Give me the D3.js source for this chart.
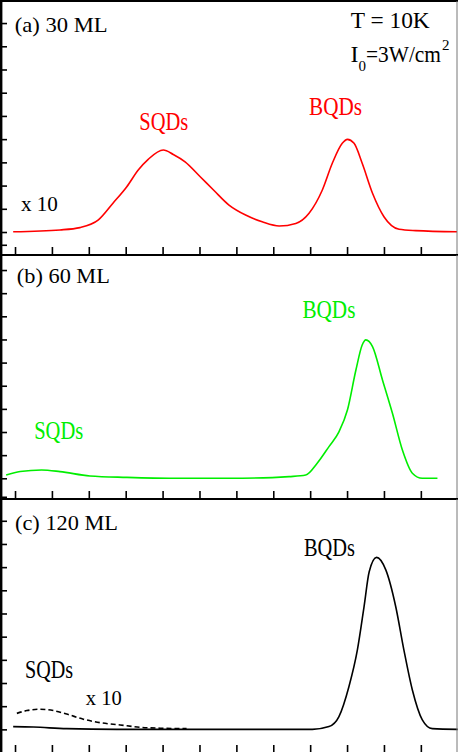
<!DOCTYPE html>
<html>
<head>
<meta charset="utf-8">
<script src="https://cdn.jsdelivr.net/npm/d3@7"></script>
<style>
  body { margin: 0; background: #fff; }
  svg text { font-family: "Liberation Serif", "Times New Roman", serif; }
</style>
</head>
<body>
<div id="chart"></div>
<script>
// PL spectra of three samples, stacked panels sharing one x axis (no tick labels)

// x ticks, in tick units
const xTicks = d3.range(0, 12);
// y ticks per panel (tick units, 0 = baseline)
const yTicksA = [-0.55, 0, 1, 2, 3, 4, 5, 6, 7, 8, 9];
const yTicksB = [-0.8, 0, 1, 2, 3, 4, 5, 6, 7, 8, 9];
const yTicksC = [0, 1, 2, 3, 4, 5, 6, 7, 8, 9];

// (a) 30 ML, red
const xA = [-0.05, 1.22, 1.76, 2.26, 2.66, 3.03, 3.34, 3.61, 4.02, 4.29, 4.61, 5.02, 5.38, 5.80, 6.25, 6.70, 7.16, 7.61, 7.97, 8.33, 8.60, 8.87, 9.01, 9.19, 9.41, 9.69, 10.00, 10.41, 10.86, 11.98];
const yA = [0.01, 0.09, 0.19, 0.52, 1.25, 1.95, 2.67, 3.13, 3.53, 3.34, 3.02, 2.38, 1.81, 1.16, 0.73, 0.44, 0.26, 0.37, 0.81, 1.81, 2.96, 3.82, 3.99, 3.82, 2.96, 1.67, 0.66, 0.12, 0.06, 0.01];

// (b) 60 ML, green
const xB = [-0.24, 0.14, 0.72, 1.22, 2.03, 3.03, 4.29, 5.80, 6.97, 7.43, 7.88, 8.19, 8.51, 8.78, 9.01, 9.24, 9.41, 9.51, 9.69, 9.96, 10.23, 10.50, 10.77, 11.04, 11.45];
const yB = [0.14, 0.29, 0.36, 0.29, 0.10, 0.04, 0.00, 0.00, 0.03, 0.07, 0.14, 0.65, 1.37, 2.01, 2.95, 4.68, 5.76, 5.98, 5.69, 4.25, 2.81, 1.22, 0.22, 0.00, 0.00];

// (c) 120 ML, black solid
const xC = [-0.05, 0.50, 1.40, 2.76, 5.80, 8.06, 8.51, 8.78, 9.05, 9.28, 9.46, 9.60, 9.80, 10.05, 10.32, 10.54, 10.77, 11.04, 11.31, 12.00];
const yC = [0.12, 0.10, 0.03, 0.00, 0.00, 0.00, 0.12, 0.55, 1.84, 3.43, 5.29, 6.80, 7.42, 6.88, 5.29, 3.43, 1.70, 0.41, 0.03, 0.00];

// (c) SQDs x10, black dashed
const xC10 = [0.05, 0.32, 0.68, 1.04, 1.40, 1.85, 2.30, 2.85, 3.39, 3.93, 4.65];
const yC10 = [0.69, 0.81, 0.87, 0.81, 0.66, 0.44, 0.29, 0.19, 0.09, 0.05, 0.03];

const width = 458, height = 752;

const x = d3.scaleLinear().domain([-0.38, 11.98]).range([1, 457]);

const panels = [
    {
        top: 1, bottom: 255, domain: [-0.99, 9.95], yTicks: yTicksA,
        series: [{ xs: xA, ys: yA, color: "#ff0000", dash: null }],
        labels: [
            { text: "(a) 30 ML", x: -0.01, y: 8.6, size: 22, len: 93, color: "#000" },
            { text: "SQDs", x: 3.37, y: 4.4, size: 25, len: 49, color: "#ff0000" },
            { text: "BQDs", x: 7.97, y: 5.03, size: 25, len: 53, color: "#ff0000" },
            { text: "x 10", x: 0.16, y: 0.92, size: 20, len: 37, color: "#000" },
            { text: "T = 10K", x: 9.1, y: 8.77, size: 24, len: 79, color: "#000" }
        ]
    },
    {
        top: 255, bottom: 499, domain: [-0.895, 9.65], yTicks: yTicksB,
        series: [{ xs: xB, ys: yB, color: "#00ee00", dash: null }],
        labels: [
            { text: "(b) 60 ML", x: 0.05, y: 8.43, size: 22, len: 93, color: "#000" },
            { text: "SQDs", x: 0.52, y: 1.69, size: 25, len: 49, color: "#00ee00" },
            { text: "BQDs", x: 7.79, y: 6.92, size: 25, len: 53, color: "#00ee00" }
        ]
    },
    {
        top: 499, bottom: 753, domain: [-1.02, 9.94], yTicks: yTicksC,
        series: [
            { xs: xC, ys: yC, color: "#000", dash: null },
            { xs: xC10, ys: yC10, color: "#000", dash: "5,3" }
        ],
        labels: [
            { text: "(c) 120 ML", x: 0.0, y: 8.6, size: 22, len: 103, color: "#000" },
            { text: "SQDs", x: 0.27, y: 2.20, size: 25, len: 48, color: "#000" },
            { text: "x 10", x: 1.92, y: 1.05, size: 20, len: 36, color: "#000" },
            { text: "BQDs", x: 7.83, y: 7.5, size: 25, len: 51, color: "#000" }
        ]
    }
];

const svg = d3.select("#chart")
    .append("svg")
    .attr("width", width)
    .attr("height", height);

panels.forEach(function (p) {
    const y = d3.scaleLinear().domain(p.domain).range([p.bottom, p.top]);
    const g = svg.append("g");

    // curves
    const line = d3.line()
        .x(d => x(d[0]))
        .y(d => y(d[1]))
        .curve(d3.curveMonotoneX);

    p.series.forEach(s => {
        g.append("path")
            .datum(s.xs.map((v, i) => [v, s.ys[i]]))
            .attr("d", line)
            .attr("fill", "none")
            .attr("stroke", s.color)
            .attr("stroke-width", 1.6)
            .attr("stroke-dasharray", s.dash);
    });

    // x ticks point inward from the bottom edge
    g.append("g")
        .attr("transform", `translate(0,${p.bottom})`)
        .call(d3.axisTop(x).tickValues(xTicks).tickSize(8).tickFormat(""))
        .call(a => a.select(".domain").remove())
        .call(a => a.selectAll("line").attr("stroke", "#000").attr("stroke-width", 1.6));

    // y ticks point inward from the left edge
    g.append("g")
        .attr("transform", "translate(1,0)")
        .call(d3.axisRight(y).tickValues(p.yTicks).tickSize(6).tickFormat(""))
        .call(a => a.select(".domain").remove())
        .call(a => a.selectAll("line").attr("stroke", "#000").attr("stroke-width", 1.6));

    // labels
    p.labels.forEach(l => {
        g.append("text")
            .attr("x", x(l.x))
            .attr("y", y(l.y))
            .attr("font-size", l.size)
            .attr("fill", l.color)
            .attr("textLength", l.len)
            .attr("lengthAdjust", "spacingAndGlyphs")
            .text(l.text);
    });

    // frame
    g.append("line")
        .attr("x1", 0).attr("x2", width)
        .attr("y1", p.top).attr("y2", p.top)
        .attr("stroke", "#000").attr("stroke-width", 2);
    g.append("line")
        .attr("x1", 457).attr("x2", 457)
        .attr("y1", p.top).attr("y2", p.bottom)
        .attr("stroke", "#777").attr("stroke-width", 1);
});

// left edge, full height
svg.append("line")
    .attr("x1", 1.2).attr("x2", 1.2)
    .attr("y1", 0).attr("y2", height)
    .attr("stroke", "#000").attr("stroke-width", 2.4);

// intensity note, top right of panel (a)
const note = svg.append("text")
    .attr("x", 350.5)
    .attr("y", 62)
    .attr("font-size", 24);
note.append("tspan").text("I");
note.append("tspan").attr("font-size", 15).attr("dy", 9).text("0");
note.append("tspan").attr("dy", -9).attr("textLength", 75).attr("lengthAdjust", "spacingAndGlyphs").text("=3W/cm");
note.append("tspan").attr("font-size", 15).attr("dx", 1).attr("dy", -12).text("2");
</script>
</body>
</html>
